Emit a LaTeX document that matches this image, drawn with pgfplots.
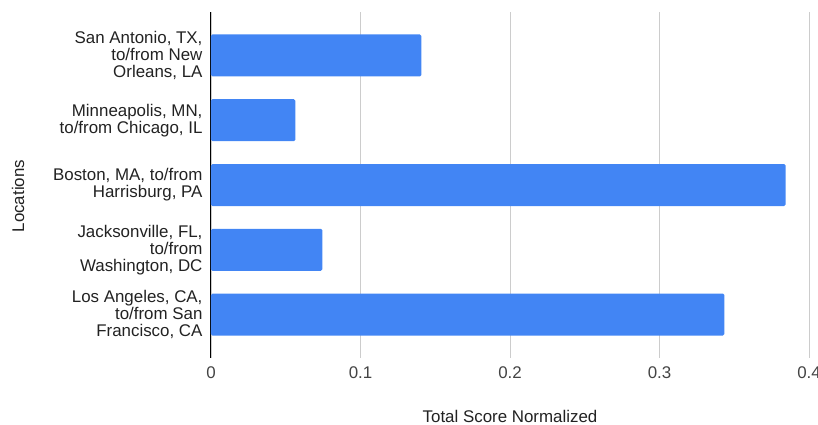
\documentclass[border=0pt]{standalone}
\usepackage{pgfplots}
\pgfplotsset{compat=1.18}
\usepackage{fontspec}
\setmainfont{Liberation Sans}
\definecolor{barblue}{HTML}{4285F4}
\definecolor{gridgray}{HTML}{CCCCCC}
\definecolor{txt}{HTML}{222222}
\definecolor{tick}{HTML}{444444}
\begin{document}
\begin{tikzpicture}
\path[use as bounding box] (-211pt,-66pt) rectangle (607pt,358pt);
\begin{axis}[
  at={(0,0)}, anchor=south west,
  scale only axis, width=598pt, height=346pt,
  xbar, bar width=42pt,
  xmin=0, xmax=0.4,
  ymin=-0.67, ymax=4.67, y dir=reverse,
  xtick={0,0.1,0.2,0.3,0.4},
  xticklabels={0,0.1,0.2,0.3,0.4},
  ytick={0,1,2,3,4},
  yticklabels={{San Antonio, TX,\\to/from New\\Orleans, LA},
               {Minneapolis, MN,\\to/from Chicago, IL},
               {Boston, MA, to/from\\Harrisburg, PA},
               {Jacksonville, FL,\\to/from\\Washington, DC},
               {Los Angeles, CA,\\to/from San\\Francisco, CA}},
  yticklabel style={align=right, font=\fontsize{16.9}{17}\selectfont, text=txt, xshift=-5pt},
  xticklabel style={font=\fontsize{16.9}{17}\selectfont, text=tick, yshift=-5pt},
  major tick length=0pt,
  xmajorgrids, grid style={gridgray, line width=0.8pt},
  axis x line*=bottom, axis y line*=left,
  x axis line style={draw=none},
  y axis line style={black, line width=1pt},
  xlabel={Total Score Normalized},
  ylabel={Locations},
  x label style={at={([yshift=-58pt]axis description cs:0.5,0)}, anchor=center, font=\fontsize{16.9}{17}\selectfont, text=txt},
  y label style={at={([xshift=-193pt]axis description cs:0,0.468)}, anchor=center, font=\fontsize{16.9}{17}\selectfont, text=txt},
  clip=false,
]
\addplot[fill=barblue, draw=none, rounded corners=1.5pt] coordinates {
  (0.1407,0) (0.0564,1) (0.3844,2) (0.0745,3) (0.3434,4)
};
\end{axis}
\end{tikzpicture}
\end{document}
